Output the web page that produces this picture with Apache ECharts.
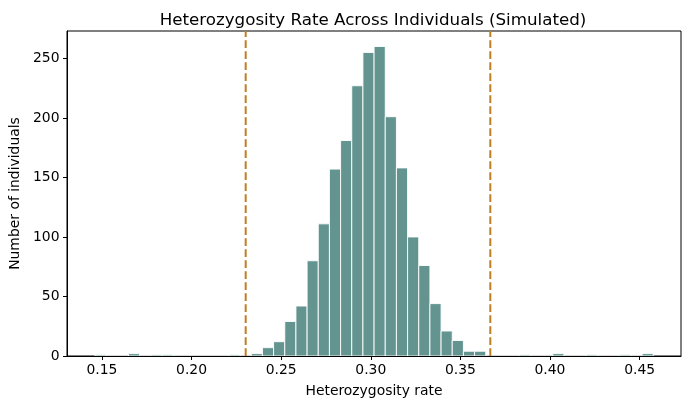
<!DOCTYPE html>
<html>
<head>
<meta charset="utf-8">
<script src="https://cdn.jsdelivr.net/npm/echarts@6/dist/echarts.min.js"></script>
<style>
html,body{margin:0;padding:0;background:#fff;}
#chart{width:690px;height:409px;}
</style>
</head>
<body>
<div id="chart"></div>
<script>
// Histogram definition
var binStart = 0.1461;
var binWidth = 0.00623;
var counts = [
  1, 0, 0, 2, 0, 1, 1, 0, 0, 0,
  0, 0, 1, 0, 2, 7, 12, 29, 42, 80,
  111, 157, 181, 227, 255, 260, 201, 158, 100, 76,
  44, 21, 13, 4, 4, 0, 0, 0, 1, 0,
  0, 2, 0, 0, 1, 0, 0, 1, 0, 2
];
var thresholds = [0.2302, 0.3667];
var xTicks = [0.15, 0.20, 0.25, 0.30, 0.35, 0.40, 0.45];
var yTicks = [0, 50, 100, 150, 200, 250];
var yMax = 273;

var FONT = 'DejaVu Sans';
var histData = counts.map(function (c, i) {
  return [binStart + i * binWidth, binStart + (i + 1) * binWidth, c];
});

var series = [{
  type: 'custom',
  clip: true,
  data: histData,
  encode: {x: [0, 1], y: 2},
  renderItem: function (params, api) {
    var p0 = api.coord([api.value(0), api.value(2)]);
    var p1 = api.coord([api.value(1), 0]);
    return {
      type: 'rect',
      shape: {x: p0[0], y: p0[1], width: p1[0] - p0[0], height: p1[1] - p0[1]},
      style: {fill: '#639490', stroke: '#ffffff', lineWidth: 0.9}
    };
  }
}];
thresholds.forEach(function (t) {
  series.push({
    type: 'line',
    data: [[t, 0], [t, yMax]],
    symbol: 'none',
    silent: true,
    z: 5,
    lineStyle: {color: '#c17f24', width: 2, type: [7.7, 3.3]}
  });
});

var chart = echarts.init(document.getElementById('chart'), null, {renderer: 'canvas'});
chart.setOption({
  animation: false,
  backgroundColor: '#fff',
  title: {
    text: 'Heterozygosity Rate Across Individuals (Simulated)',
    left: 368,
    textAlign: 'center',
    top: 7,
    textStyle: {fontFamily: FONT, fontSize: 16.7, fontWeight: 'normal', color: '#000'}
  },
  grid: {
    left: 66, right: 9, top: 31, bottom: 53,
    show: true, borderColor: '#000', borderWidth: 1, backgroundColor: 'transparent'
  },
  xAxis: {
    type: 'value',
    min: 0.1305,
    max: 0.4731,
    name: 'Heterozygosity rate',
    nameLocation: 'middle',
    nameGap: 28,
    nameTextStyle: {fontFamily: FONT, fontSize: 13.9, color: '#000'},
    axisLine: {show: true, onZero: false, lineStyle: {color: '#000', width: 1}},
    axisTick: {show: true, length: 4, customValues: xTicks, lineStyle: {color: '#000'}},
    axisLabel: {
      customValues: xTicks,
      margin: 7,
      fontFamily: FONT, fontSize: 13.9, color: '#000',
      formatter: function (v) { return v.toFixed(2); }
    },
    splitLine: {show: false}
  },
  yAxis: {
    type: 'value',
    min: 0,
    max: yMax,
    name: 'Number of individuals',
    nameLocation: 'middle',
    nameGap: 45,
    nameTextStyle: {fontFamily: FONT, fontSize: 13.9, color: '#000'},
    axisLine: {show: true, lineStyle: {color: '#000', width: 1}},
    axisTick: {show: true, length: 4, customValues: yTicks, lineStyle: {color: '#000'}},
    axisLabel: {
      customValues: yTicks,
      margin: 7.5,
      fontFamily: FONT, fontSize: 13.9, color: '#000'
    },
    splitLine: {show: false}
  },
  series: series
});
</script>
</body>
</html>
